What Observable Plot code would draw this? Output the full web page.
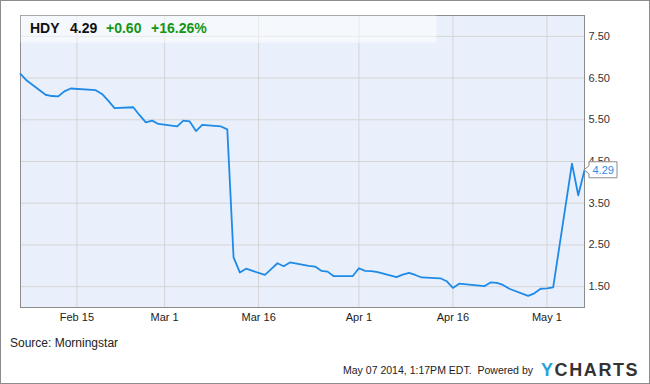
<!DOCTYPE html>
<html>
<head>
<meta charset="utf-8">
<script src="https://cdn.jsdelivr.net/npm/d3@7"></script>
<script src="https://cdn.jsdelivr.net/npm/@observablehq/plot@0.6"></script>
<style>
  html, body { margin: 0; padding: 0; background: #fff; }
  #chart { width: 650px; height: 384px; }
</style>
</head>
<body>
<div id="chart"></div>
<script>
const dates = [
  "2014-02-06","2014-02-07","2014-02-10","2014-02-11","2014-02-12","2014-02-13","2014-02-14",
  "2014-02-18","2014-02-19","2014-02-20","2014-02-21","2014-02-24","2014-02-25","2014-02-26",
  "2014-02-27","2014-02-28","2014-03-03","2014-03-04","2014-03-05","2014-03-06","2014-03-07",
  "2014-03-10","2014-03-11","2014-03-12","2014-03-13","2014-03-14","2014-03-17","2014-03-18",
  "2014-03-19","2014-03-20","2014-03-21","2014-03-24","2014-03-25","2014-03-26","2014-03-27",
  "2014-03-28","2014-03-31","2014-04-01","2014-04-02","2014-04-03","2014-04-04","2014-04-07",
  "2014-04-08","2014-04-09","2014-04-10","2014-04-11","2014-04-14","2014-04-15","2014-04-16",
  "2014-04-17","2014-04-21","2014-04-22","2014-04-23","2014-04-24","2014-04-25","2014-04-28",
  "2014-04-29","2014-04-30","2014-05-01","2014-05-02","2014-05-05","2014-05-06","2014-05-07"
];
const closes = [
  6.60, 6.44, 6.10, 6.07, 6.06, 6.18, 6.25,
  6.21, 6.12, 5.96, 5.78, 5.80, 5.61, 5.44,
  5.48, 5.40, 5.34, 5.48, 5.46, 5.23, 5.38,
  5.34, 5.27, 2.20, 1.84, 1.93, 1.78, 1.92,
  2.06, 1.99, 2.08, 2.00, 1.98, 1.88, 1.86,
  1.75, 1.75, 1.94, 1.88, 1.87, 1.85, 1.73,
  1.79, 1.83, 1.78, 1.72, 1.70, 1.63, 1.47,
  1.57, 1.51, 1.60, 1.59, 1.54, 1.45, 1.28,
  1.34, 1.45, 1.46, 1.48, 4.45, 3.69, 4.29
];
const yTicks = [1.5, 2.5, 3.5, 4.5, 5.5, 6.5, 7.5];
const xTickDates = ["2014-02-15","2014-03-01","2014-03-16","2014-04-01","2014-04-16","2014-05-01"];
const xDomain = ["2014-02-06", "2014-05-07"];
const yDomain = [1, 8];
const ticker = "HDY";
const lastPrice = "4.29";
const change = "+0.60";
const changePct = "+16.26%";
const sourceText = "Source: Morningstar";
const stampText = "May 07 2014, 1:17PM EDT.  Powered by";

const data = dates.map((d, i) => ({date: new Date(d), close: closes[i]}));
const xTicks = xTickDates.map(d => new Date(d));

const font = "Arial, 'Liberation Sans', Helvetica, sans-serif";

const plot = Plot.plot({
  width: 650,
  height: 384,
  marginLeft: 20,
  marginRight: 66,
  marginTop: 15,
  marginBottom: 77,
  x: {type: "utc", domain: xDomain.map(d => new Date(d))},
  y: {domain: yDomain},
  style: {fontFamily: font, fontSize: "11px", background: "#fff", color: "#333", overflow: "visible"},
  marks: [
    Plot.frame({fill: "#eaf0fb", stroke: null}),
    Plot.ruleX(xTicks, {stroke: "#d4d4d4", strokeWidth: 1}),
    Plot.ruleY(yTicks, {stroke: "#d4d4d4", strokeWidth: 1}),
    Plot.frame({stroke: "#8c8c8c", fill: null}),
    Plot.line(data, {x: "date", y: "close", stroke: "#1e8ae8", strokeWidth: 1.8}),
    Plot.axisY({anchor: "right", ticks: yTicks, tickFormat: d3.format(".2f"), tickSize: 0, tickPadding: 4, label: null, fill: "#333"}),
    Plot.axisX({ticks: xTicks, tickFormat: d3.utcFormat("%b %-d"), tickSize: 0, tickPadding: 6, label: null, fill: "#222"})
  ]
});

document.getElementById("chart").appendChild(plot);

const svg = d3.select(plot);
const xs = plot.scale("x");
const ys = plot.scale("y");

// title band (semi-transparent white)
svg.append("rect")
  .attr("x", 20.5).attr("y", 15.5).attr("width", 416).attr("height", 27)
  .attr("fill", "#ffffff").attr("fill-opacity", 0.5);

const title = svg.append("text")
  .attr("x", 30).attr("y", 33).attr("text-anchor", "start")
  .attr("font-family", font).attr("font-size", 14).attr("font-weight", "bold");
title.append("tspan").attr("fill", "#111").text(ticker);
title.append("tspan").attr("x", 70).attr("fill", "#111").text(lastPrice);
title.append("tspan").attr("x", 106).attr("fill", "#149614").text(change);
title.append("tspan").attr("x", 151).attr("fill", "#149614").text(changePct);

// last price label
const last = data[data.length - 1];
const lx = xs.apply(last.date);
const ly = ys.apply(last.close);
svg.append("path")
  .attr("d", `M${lx},${ly} L${lx + 5},${ly - 4} L${lx + 5},${ly - 8} L${lx + 33},${ly - 8} L${lx + 33},${ly + 8} L${lx + 5},${ly + 8} L${lx + 5},${ly + 4} Z`)
  .attr("fill", "#fff").attr("stroke", "#8c8c8c").attr("stroke-width", 1);
svg.append("text")
  .attr("x", lx + 8.5).attr("y", ly).attr("dy", "0.35em").attr("text-anchor", "start")
  .attr("font-family", font).attr("font-size", 11).attr("fill", "#2a8ee6")
  .text(last.close.toFixed(2));

// footer
svg.append("text")
  .attr("x", 10).attr("y", 347).attr("text-anchor", "start")
  .attr("font-family", font).attr("font-size", 12).attr("fill", "#222")
  .text(sourceText);
svg.append("text")
  .attr("x", 343).attr("y", 374).attr("text-anchor", "start")
  .attr("font-family", font).attr("font-size", 11.5).attr("fill", "#222")
  .attr("textLength", 190).attr("lengthAdjust", "spacingAndGlyphs")
  .attr("xml:space", "preserve").style("white-space", "pre")
  .text(stampText);
const logo = svg.append("text")
  .attr("x", 541).attr("y", 376).attr("text-anchor", "start")
  .attr("font-family", font).attr("font-size", 18).attr("font-weight", 900)
  .attr("letter-spacing", 1.6);
logo.append("tspan").attr("fill", "#2aa3dc").text("Y");
logo.append("tspan").attr("fill", "#333").text("CHARTS");

// outer border
svg.append("rect")
  .attr("x", 0.5).attr("y", 0.5).attr("width", 649).attr("height", 383)
  .attr("fill", "none").attr("stroke", "#8c8c8c");
</script>
</body>
</html>
